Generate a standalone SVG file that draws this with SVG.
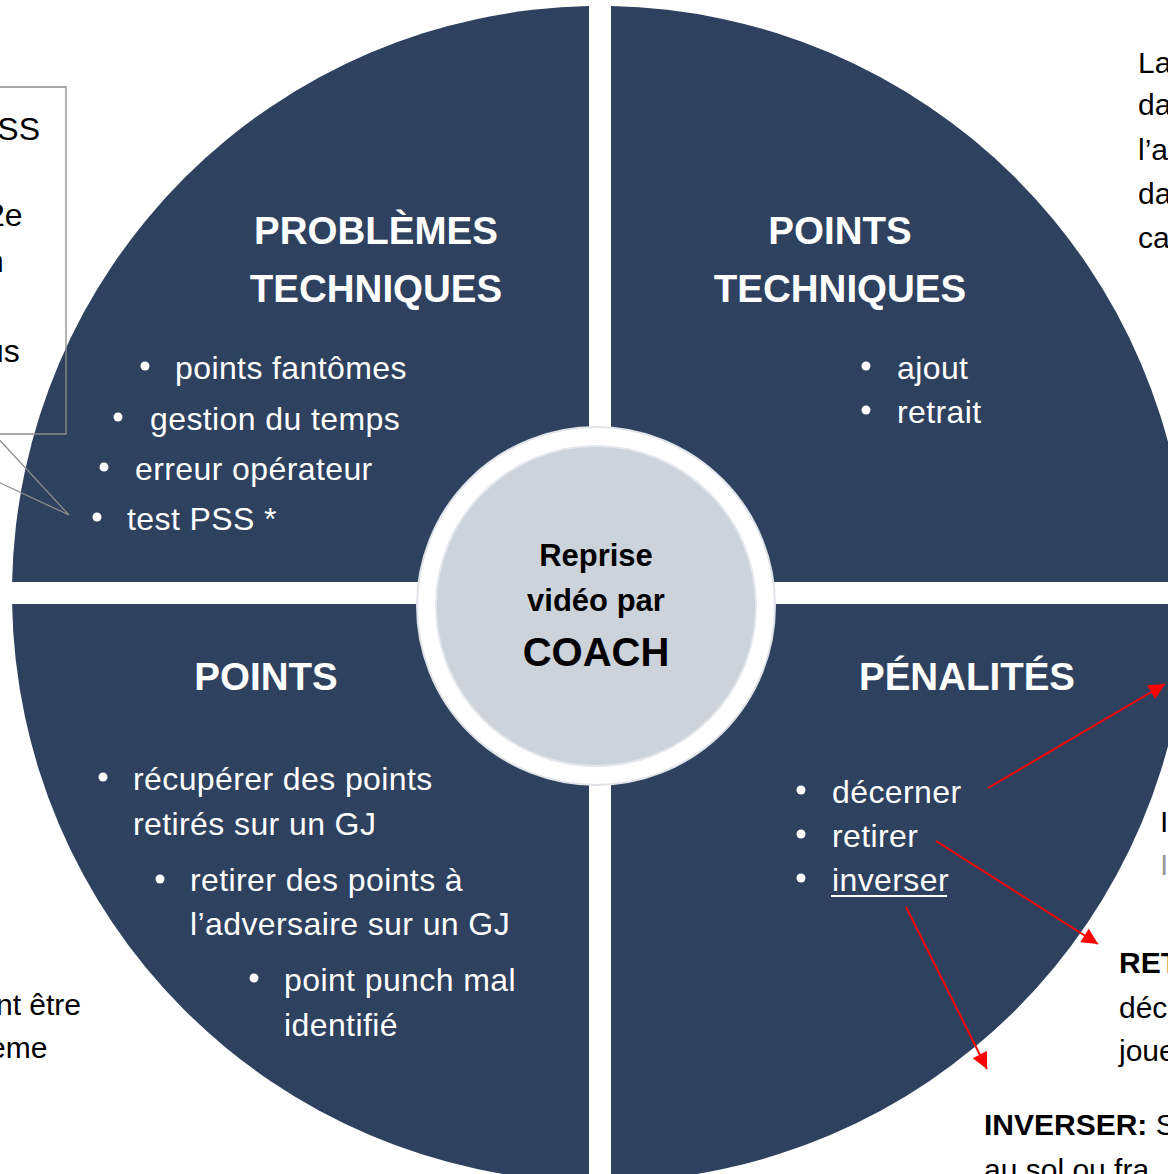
<svg xmlns="http://www.w3.org/2000/svg" width="1168" height="1174" viewBox="0 0 1168 1174">
<defs>
<style>
.q{fill:#2E415F}
.h{font-family:"Liberation Sans",Arial,sans-serif;font-weight:bold;font-size:38.5px;fill:#fff;text-anchor:middle}
.t{font-family:"Liberation Sans",Arial,sans-serif;font-size:32px;letter-spacing:0.4px;fill:#fff}
.k{font-family:"Liberation Sans",Arial,sans-serif;font-size:30px;fill:#000}
.b{fill:#fff}
.c{font-family:"Liberation Sans",Arial,sans-serif;font-weight:bold;fill:#000;text-anchor:middle}
.red{stroke:#FF0000;stroke-width:2;fill:none}
</style>
<marker id="ah" viewBox="0 0 10 10" refX="10" refY="5" markerWidth="22" markerHeight="16" markerUnits="userSpaceOnUse" orient="auto">
<path d="M0,0 L10,5 L0,10 z" fill="#FF0000"/>
</marker>
</defs>
<rect width="1168" height="1174" fill="#fff"/>

<g id="q-problemes">
<path class="q" d="M589,582 V6.1 A588,588 0 0 0 12.1,582 Z"/>
<text class="h" x="376" y="244">PROBLÈMES</text>
<text class="h" x="376" y="302">TECHNIQUES</text>
<circle class="b" cx="145" cy="366" r="4.5"/><text class="t" x="175" y="379">points fantômes</text>
<circle class="b" cx="118" cy="417" r="4.5"/><text class="t" x="150" y="430">gestion du temps</text>
<circle class="b" cx="104" cy="467" r="4.5"/><text class="t" x="135" y="480">erreur opérateur</text>
<circle class="b" cx="97" cy="517" r="4.5"/><text class="t" x="127" y="530">test PSS *</text>
</g>

<g id="q-points-techniques">
<path class="q" d="M611,582 H1187.9 A588,588 0 0 0 611,6.1 Z"/>
<text class="h" x="840" y="244">POINTS</text>
<text class="h" x="840" y="302">TECHNIQUES</text>
<circle class="b" cx="866" cy="366" r="4.5"/><text class="t" x="897" y="379">ajout</text>
<circle class="b" cx="866" cy="410" r="4.5"/><text class="t" x="897" y="423">retrait</text>
</g>

<g id="q-points">
<path class="q" d="M589,604 H12.1 A588,588 0 0 0 589,1181.9 Z"/>
<text class="h" x="266" y="690">POINTS</text>
<circle class="b" cx="103" cy="777" r="4.5"/><text class="t" x="133" y="790">récupérer des points</text>
<text class="t" x="133" y="835">retirés sur un GJ</text>
<circle class="b" cx="160" cy="879" r="4.5"/><text class="t" x="190" y="891">retirer des points à</text>
<text class="t" x="190" y="935">l’adversaire sur un GJ</text>
<circle class="b" cx="254" cy="978" r="4.5"/><text class="t" x="284" y="991">point punch mal</text>
<text class="t" x="284" y="1036">identifié</text>
</g>

<g id="q-penalites">
<path class="q" d="M611,604 V1181.9 A588,588 0 0 0 1187.9,604 Z"/>
<text class="h" x="967" y="690">PÉNALITÉS</text>
<circle class="b" cx="801" cy="790" r="4.5"/><text class="t" x="832" y="803">décerner</text>
<circle class="b" cx="801" cy="834" r="4.5"/><text class="t" x="832" y="847">retirer</text>
<circle class="b" cx="801" cy="878" r="4.5"/><text class="t" x="832" y="891">inverser</text>
<rect x="831" y="895" width="116" height="2" fill="#fff"/>
</g>

<g id="center">
<circle cx="596" cy="606" r="179" fill="#fff" stroke="#dfe3e8" stroke-width="2"/>
<circle cx="596" cy="606" r="160" fill="#CDD3DA" stroke="#e4e7eb" stroke-width="2"/>
<text class="c" x="596" y="566" style="font-size:31px">Reprise</text>
<text class="c" x="596" y="611" style="font-size:31px">vidéo par</text>
<text class="c" x="596" y="666" style="font-size:40px">COACH</text>
</g>

<g id="callout">
<path d="M-200,87 H66 V434 H-6 L69,515 L-105,434 H-200" fill="none" stroke="#8c8c8c" stroke-width="1.3"/>
<text class="k" x="-24" y="140" style="font-size:32px">PSS</text>
<text class="k" x="-13" y="226" style="font-size:32px">2e</text>
<text class="k" x="-14" y="272" style="font-size:32px">n</text>
<text class="k" x="-14" y="362" style="font-size:32px">us</text>
</g>

<g id="text-top-right">
<text class="k" x="1138" y="73">La</text>
<text class="k" x="1138" y="115">da</text>
<text class="k" x="1138" y="160">l’a</text>
<text class="k" x="1138" y="204">da</text>
<text class="k" x="1138" y="248">ca</text>
</g>

<g id="text-right-mid">
<text class="k" x="1160" y="832">I</text>
<text class="k" x="1160" y="875" style="fill:#9a9a9a">I</text>
</g>

<g id="text-retirer">
<text class="k" x="1119" y="973" style="font-weight:bold">RET</text>
<text class="k" x="1119" y="1018">déc</text>
<text class="k" x="1119" y="1061">joue</text>
</g>

<g id="text-inverser">
<text class="k" x="984" y="1135"><tspan style="font-weight:bold">INVERSER:</tspan> S</text>
<text class="k" x="984" y="1180">au sol ou fra</text>
</g>

<g id="text-bottom-left">
<text class="k" x="-4" y="1015">nt être</text>
<text class="k" x="-11" y="1058">ème</text>
</g>

<g id="connectors">
<line class="red" x1="988" y1="788" x2="1165" y2="684" marker-end="url(#ah)"/>
<line class="red" x1="936" y1="841" x2="1098" y2="944" marker-end="url(#ah)"/>
<line class="red" x1="906" y1="907" x2="987" y2="1069" marker-end="url(#ah)"/>
</g>
</svg>
